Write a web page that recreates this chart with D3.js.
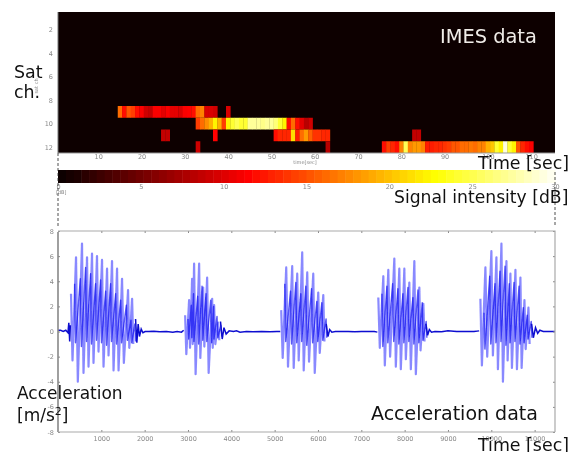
<!DOCTYPE html>
<html lang="en">

<head>
  <meta charset="utf-8">
  <title>IMES and acceleration data</title>
  <script src="https://d3js.org/d3.v7.min.js"></script>
  <style type="text/css">
    body {
      margin: 0;
      background: white;
    }

    .axis>path.domain {
      display: none;
    }

    .axis line {
      stroke: #888;
    }

    .axis text {
      font-family: "DejaVu Sans", sans-serif;
      font-size: 6.5px;
      fill: #888;
    }

    .note {
      font-family: "DejaVu Sans", sans-serif;
      font-size: 5px;
      fill: #888;
    }

    .label {
      font-family: "DejaVu Sans", sans-serif;
      font-size: 17.4px;
      fill: #111;
    }
  </style>
</head>

<body>
  <script>

    //Heatmap data: signal intensity [dB] per second, one array per run of cells
    const satTicks = [2, 4, 6, 8, 10, 12];
    const timeTicks = [10, 20, 30, 40, 50, 60, 70, 80, 90, 100, 110];
    const dbTicks = [0, 5, 10, 15, 20, 25, 30];

    const ch9Start = 15;
    const ch9Values = [16, 12, 15, 14, 12, 11, 9, 8.5, 11, 11, 10, 11, 10, 10, 9.5, 11, 11.5, 12, 16, 17, 9.5, 9.5, 9];
    const ch9bStart = 40;
    const ch9bValues = [9.5];
    const ch10Start = 33;
    const ch10Values = [14, 16, 17.5, 19, 22, 19, 14, 22, 24, 25, 24, 24, 27, 27, 27, 26.5, 27, 27, 26, 24, 22, 12, 16, 12, 10, 8, 9];
    const ch11aStart = 25;
    const ch11aValues = [8.5, 8.5];
    const ch11bStart = 37;
    const ch11bValues = [11.5];
    const ch11cStart = 51;
    const ch11cValues = [12, 13, 13, 13, 21, 12.5, 16, 18, 15.5, 13.5, 13.5, 13, 13];
    const ch11dStart = 83;
    const ch11dValues = [8.5, 8.5];
    const ch12aStart = 33;
    const ch12aValues = [9];
    const ch12bStart = 63;
    const ch12bValues = [8];
    const ch12cStart = 76;
    const ch12cValues = [12, 14, 13, 12, 17, 25, 17, 18, 18, 17, 12.5, 12.5, 13, 13, 13.5, 14, 15, 15, 16, 16, 16.5, 16, 17, 17, 19, 20, 24, 22, 29, 24, 22, 15, 13, 12, 11];

    //Acceleration data: time of each main swing, then the peaks read around it
    const accTicksX = [1000, 2000, 3000, 4000, 5000, 6000, 7000, 8000, 9000, 10000, 11000];
    const accTicksY = [-8, -6, -4, -2, 0, 2, 4, 6, 8];

    const burst1Time = [300, 416, 554, 670, 785, 900, 1016, 1132, 1247, 1363, 1478, 1617, 1710];
    const burst1Up = [3.0, 5.9, 7.0, 5.9, 6.2, 6.0, 5.7, 5.0, 5.6, 5.0, 4.2, 3.3, 2.6];
    const burst1Down = [-2.3, -4.0, -3.3, -2.8, -2.5, -1.6, -2.8, -1.9, -3.1, -3.1, -2.5, -1.3, -1.0];
    const burst1Mid = [3.8, 4.2, 5.1, 4.6, 3.8, 4.1, 3.2, 3.8, 3.0, 2.5, 2.1, 0.9, 0.6];
    const burst1Core = [-0.9, -1.2, -0.8, -1.0, -0.7, -0.9, -1.1, -0.8, -1.0, -0.9, -0.7, -0.9, -0.8];

    const burst2Time = [2934, 3026, 3095, 3141, 3257, 3350, 3442, 3558, 3603, 3696];
    const burst2Up = [1.3, 2.5, 4.2, 5.4, 5.4, 3.5, 4.3, 2.6, 2.1, 0.7];
    const burst2Down = [-1.8, -1.3, -1.0, -3.4, -2.1, -1.2, -3.3, -1.3, -1.0, -0.7];
    const burst2Mid = [1.0, 2.1, 3.0, 2.8, 3.6, 3.0, 2.5, 2.0, 1.2, 0.5];
    const burst2Core = [-0.6, -0.5, -0.8, -1.0, -0.7, -0.8, -0.9, -0.6, -0.5, -0.4];

    const burst3Time = [5151, 5267, 5405, 5521, 5636, 5752, 5891, 6006, 6122];
    const burst3Up = [1.7, 5.1, 5.2, 4.6, 6.3, 4.7, 4.6, 3.1, 2.9];
    const burst3Down = [-2.1, -2.8, -2.9, -2.3, -3.1, -2.4, -3.3, -1.7, -0.8];
    const burst3Mid = [3.8, 3.2, 3.9, 3.0, 3.6, 3.4, 2.4, 2.3, 1.0];
    const burst3Core = [-0.8, -1.0, -0.9, -0.8, -1.1, -0.9, -0.8, -0.7, -0.5];

    const burst4Time = [7392, 7508, 7623, 7762, 7877, 7993, 8108, 8224, 8339, 8432];
    const burst4Up = [2.7, 4.4, 4.9, 5.8, 5.0, 5.0, 3.9, 5.6, 3.5, 2.2];
    const burst4Down = [-1.3, -2.7, -2.0, -2.8, -3.0, -2.2, -3.0, -3.4, -1.5, -0.8];
    const burst4Mid = [3.0, 3.6, 3.8, 3.4, 3.0, 3.5, 2.7, 3.3, 2.3, 0.8];
    const burst4Core = [-1.2, -0.9, -0.8, -1.0, -0.9, -0.8, -1.0, -0.9, -0.7, -0.5];

    const burst5Time = [9748, 9864, 10002, 10118, 10234, 10349, 10441, 10557, 10672, 10765, 10857];
    const burst5Up = [2.6, 5.1, 6.4, 5.9, 7.0, 5.6, 4.6, 4.9, 4.3, 2.5, 1.9];
    const burst5Down = [-2.7, -2.0, -1.9, -3.0, -4.0, -2.3, -2.9, -3.0, -2.9, -1.4, -1.0];
    const burst5Mid = [1.5, 4.4, 3.8, 4.8, 5.2, 3.8, 3.9, 3.6, 1.9, 1.3, 0.8];
    const burst5Core = [-1.4, -1.0, -0.9, -0.8, -1.1, -0.9, -0.8, -1.0, -0.9, -0.6, -0.5];

    //the part of the trace where the sensor is nearly still
    const quietTime = [0, 60, 120, 180, 230, 250, 270, 285,
      1790, 1820, 1850, 1880, 1920, 1960, 2010, 2100, 2200, 2350, 2500, 2650, 2750, 2850, 2900,
      3750, 3790, 3830, 3880, 3950, 4050, 4120, 4200, 4350, 4500, 4700, 4900, 5050, 5130,
      6190, 6230, 6270, 6320, 6400, 6550, 6700, 6850, 7000, 7150, 7300, 7370,
      8490, 8530, 8570, 8620, 8700, 8850, 9000, 9200, 9400, 9600, 9720,
      10930, 10970, 11020, 11070, 11120, 11200, 11300, 11400, 11470];
    const quietValue = [0.1, 0.1, 0, 0.1, -0.1, 0.7, -0.8, 0.5,
      1.0, -0.9, 0.6, -0.4, 0.2, -0.1, 0, 0, 0.02, -0.02, 0, -0.05, 0, -0.05, 0.1,
      0.8, -0.6, 0.3, -0.2, 0.05, 0, 0.05, -0.05, 0, -0.02, 0, -0.02, 0, 0,
      0.6, -0.4, 0.15, -0.05, 0, 0, 0, -0.02, 0, 0, 0, -0.05,
      0.6, -0.3, 0.15, -0.05, 0, -0.02, 0.05, 0, 0, 0, 0.05,
      0.6, -0.5, 0.3, -0.15, 0.1, 0, 0, 0, 0];


    //Config settings
    const width = 578, height = 452;
    const left = 58, right = 555;

    const svg = d3.select("body").append("svg")
      .attr("width", width).attr("height", height)
      .style("display", "block");

    //the picture is a soft upscaled screenshot, so the plots get a small blur
    const defs = svg.append("defs");
    defs.append("filter").attr("id", "soft")
      .attr("filterUnits", "userSpaceOnUse")
      .attr("x", 0).attr("y", 0).attr("width", width).attr("height", height)
      .append("feGaussianBlur").attr("stdDeviation", 0.7);

    //hot colormap
    const hot = d3.scaleLinear()
      .domain([0, 11.25, 22.5, 30])
      .range(["#0a0000", "#ff0000", "#ffff00", "#ffffff"])
      .clamp(true);


    //Heatmap
    const heatX = d3.scaleLinear().domain([0.7, 115.5]).range([left, right]);
    const heatY = d3.scaleLinear().domain([0.5, 12.5]).range([12, 153]);

    const heatRuns = [
      [9, ch9Start, ch9Values], [9, ch9bStart, ch9bValues],
      [10, ch10Start, ch10Values],
      [11, ch11aStart, ch11aValues], [11, ch11bStart, ch11bValues],
      [11, ch11cStart, ch11cValues], [11, ch11dStart, ch11dValues],
      [12, ch12aStart, ch12aValues], [12, ch12bStart, ch12bValues], [12, ch12cStart, ch12cValues]
    ];
    const heatCells = heatRuns.flatMap(([ch, start, values]) =>
      values.map((v, i) => ({ ch: ch, t: start + i, v: v })));

    const heatGroup = svg.append("g").attr("filter", "url(#soft)");
    heatGroup.append("rect")
      .attr("x", left).attr("y", heatY(0.5))
      .attr("width", right - left).attr("height", heatY(12.5) - heatY(0.5))
      .attr("fill", hot(0));
    heatGroup.selectAll("rect.cell").data(heatCells).enter().append("rect")
      .classed("cell", true)
      .attr("x", d => heatX(d.t - 0.5))
      .attr("y", d => heatY(d.ch - 0.5))
      .attr("width", d => heatX(d.t + 0.5) - heatX(d.t - 0.5) + 0.3)
      .attr("height", d => heatY(d.ch + 0.5) - heatY(d.ch - 0.5))
      .attr("fill", d => hot(d.v));

    heatGroup.append("g").attr("class", "axis")
      .attr("transform", "translate(0,153)")
      .call(d3.axisBottom(heatX).tickValues(timeTicks).tickSize(0).tickPadding(1));
    heatGroup.append("g").attr("class", "axis")
      .attr("transform", `translate(${left},0)`)
      .call(d3.axisLeft(heatY).tickValues(satTicks).tickSize(0).tickPadding(5));
    heatGroup.append("line")
      .attr("x1", left).attr("x2", left).attr("y1", 12).attr("y2", 153)
      .attr("stroke", "#777");
    heatGroup.append("line")
      .attr("x1", left).attr("x2", right).attr("y1", 153).attr("y2", 153)
      .attr("stroke", "#999");
    heatGroup.append("text").attr("class", "note")
      .attr("x", 305).attr("y", 164).attr("text-anchor", "middle")
      .text("time[sec]");
    heatGroup.append("text").attr("class", "note")
      .attr("transform", "translate(38,86) rotate(-90)").attr("text-anchor", "middle")
      .text("sat ch");


    //Colour bar
    const dbScale = d3.scaleLinear().domain([0, 30]).range([left, right]);
    const dbSteps = d3.range(0, 30, 30 / 64);
    const barGroup = svg.append("g").attr("filter", "url(#soft)");
    barGroup.selectAll("rect").data(dbSteps).enter().append("rect")
      .attr("x", d => dbScale(d))
      .attr("y", 170)
      .attr("width", (right - left) / 64 + 0.5)
      .attr("height", 13)
      .attr("fill", d => hot(d));
    barGroup.append("g").attr("class", "axis")
      .attr("transform", "translate(0,183)")
      .call(d3.axisBottom(dbScale).tickValues(dbTicks).tickSize(0).tickPadding(1));
    barGroup.append("text").attr("class", "note")
      .attr("x", 56).attr("y", 194)
      .text("[dB]");

    //dashed guides from the heatmap down to the acceleration plot
    [left, right].forEach(x => {
      svg.append("line")
        .attr("x1", x).attr("x2", x)
        .attr("y1", x === left ? 153 : 172).attr("y2", 226)
        .attr("stroke", "#222").attr("stroke-width", 0.8)
        .attr("stroke-dasharray", "3,2");
    });


    //Acceleration plot
    const accX = d3.scaleLinear().domain([0, 11470]).range([left, right]);
    const accY = d3.scaleLinear().domain([-8, 8]).range([432, 231]);

    const bursts = [
      [burst1Time, burst1Up, burst1Down, burst1Mid, burst1Core],
      [burst2Time, burst2Up, burst2Down, burst2Mid, burst2Core],
      [burst3Time, burst3Up, burst3Down, burst3Mid, burst3Core],
      [burst4Time, burst4Up, burst4Down, burst4Mid, burst4Core],
      [burst5Time, burst5Up, burst5Down, burst5Mid, burst5Core]
    ];

    const accLine = d3.line().x(d => accX(d.t)).y(d => accY(d.v));

    const accGroup = svg.append("g").attr("filter", "url(#soft)");

    //big swings are pale, the smaller inner swings overlap and read darker
    bursts.forEach(([time, up, down, mid, core]) => {
      const outer = [], inner = [];
      time.forEach((t, i) => {
        const gap = i < time.length - 1 ? time[i + 1] - t : 90;
        outer.push({ t: t, v: up[i] }, { t: t + gap * 0.3, v: down[i] });
        inner.push({ t: t + gap * 0.72, v: mid[i] }, { t: t + gap * 0.9, v: core[i] });
      });
      accGroup.append("path").datum(outer)
        .attr("d", accLine)
        .attr("fill", "none")
        .attr("stroke", "#2a2aff")
        .attr("stroke-opacity", 0.55)
        .attr("stroke-width", 2.2)
        .attr("stroke-linejoin", "round");
      accGroup.append("path").datum(inner)
        .attr("d", accLine)
        .attr("fill", "none")
        .attr("stroke", "#0000f0")
        .attr("stroke-opacity", 0.65)
        .attr("stroke-width", 1.4)
        .attr("stroke-linejoin", "round");
    });

    //still parts of the trace, split wherever a burst sits in between
    const quietSegments = [];
    quietTime.forEach((t, i) => {
      if (i === 0 || t - quietTime[i - 1] > 400) quietSegments.push([]);
      quietSegments[quietSegments.length - 1].push({ t: t, v: quietValue[i] });
    });
    accGroup.selectAll("path.quiet").data(quietSegments).enter().append("path")
      .classed("quiet", true)
      .attr("d", accLine)
      .attr("fill", "none")
      .attr("stroke", "#1010d0")
      .attr("stroke-width", 1.5);

    accGroup.append("g").attr("class", "axis")
      .attr("transform", "translate(0,432)")
      .call(d3.axisBottom(accX).tickValues(accTicksX).tickSize(-2).tickPadding(4).tickFormat(d3.format("d")));
    accGroup.append("g").attr("class", "axis")
      .attr("transform", `translate(${left},0)`)
      .call(d3.axisLeft(accY).tickValues(accTicksY).tickSize(-2).tickPadding(4)
        .tickFormat(d => d < 0 ? "-" + Math.abs(d) : d));
    accGroup.append("g").attr("class", "axis")
      .attr("transform", "translate(0,231)")
      .call(d3.axisTop(accX).tickValues(accTicksX).tickSize(-2).tickFormat(""));
    accGroup.append("g").attr("class", "axis")
      .attr("transform", `translate(${right},0)`)
      .call(d3.axisRight(accY).tickValues(accTicksY).tickSize(-2).tickFormat(""));
    accGroup.append("path")
      .attr("d", `M${left},232V432`)
      .attr("stroke", "#888").attr("stroke-width", 1.6).attr("fill", "none");
    accGroup.append("path")
      .attr("d", `M${left},231H${right}V432M${left},432H${right}`)
      .attr("stroke", "#aaa").attr("stroke-width", 1.2).attr("fill", "none");


    //Overlaid captions
    function caption(text, x, y, size, fill) {
      return svg.append("text").attr("class", "label")
        .attr("x", x).attr("y", y)
        .style("font-size", size + "px")
        .style("fill", fill || "#111")
        .text(text);
    }
    caption("Sat", 14, 78, 17.4);
    caption("ch.", 14, 98, 17.4);
    caption("IMES data", 440, 43, 19.4, "#f0ece8");
    caption("Time [sec]", 478, 169, 17.4);
    caption("Signal intensity [dB]", 394, 203, 17.2);
    caption("Acceleration", 17, 399, 17);
    const unit = caption("[m/s", 17, 421, 17);
    unit.append("tspan").attr("dy", -6).style("font-size", "11px").text("2");
    unit.append("tspan").attr("dy", 6).text("]");
    caption("Acceleration data", 371, 420, 19);
    caption("Time [sec]", 478, 451, 17.4);

  </script>
</body>
